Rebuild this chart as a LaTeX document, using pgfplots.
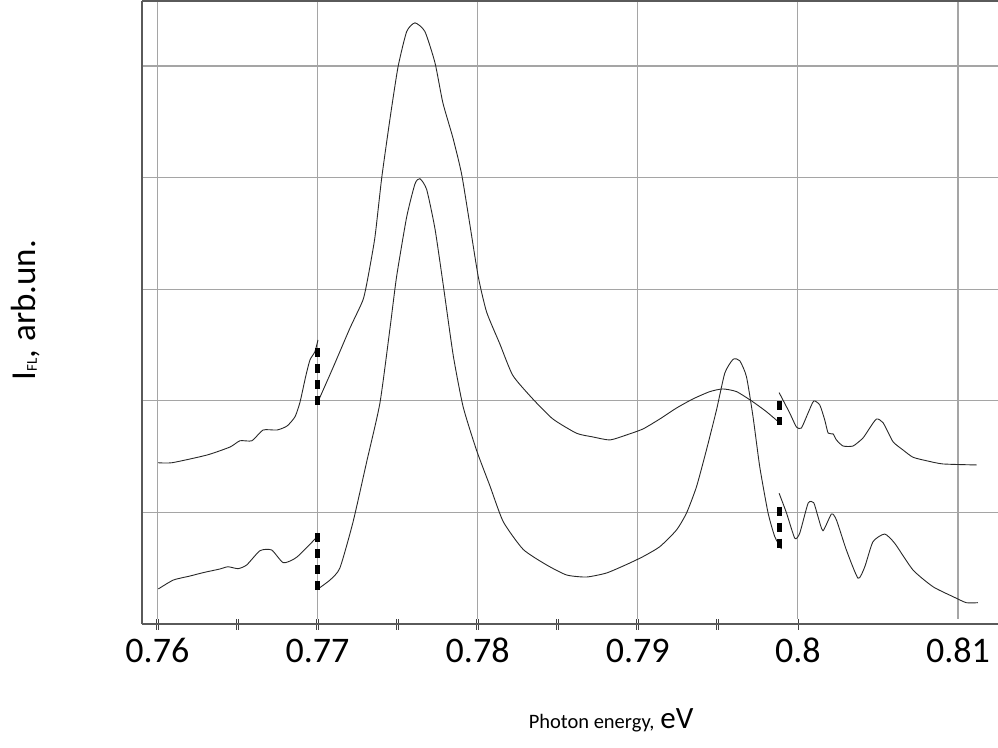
\documentclass[border=0pt]{standalone}
\usepackage{fontspec}
\setmainfont{Carlito}[Numbers=Lining]
\usepackage{pgfplots}
\pgfplotsset{compat=1.18}
\definecolor{gridgray}{RGB}{165,165,165}
\definecolor{framegray}{RGB}{90,90,90}
\definecolor{curve}{RGB}{40,40,40}
\begin{document}
\begin{tikzpicture}
\useasboundingbox (-142pt,-123pt) rectangle (856pt,624pt);
\begin{axis}[
    scale only axis,
    width=856pt, height=623pt,
    at={(0,0)}, anchor=south west,
    xmin=0.75904, xmax=0.8125,
    ymin=0, ymax=5.582,
    axis x line=box, axis y line=left,
    axis line style={-, framegray, line width=1.4pt},
    xtick={0.76,0.77,0.78,0.79,0.8,0.81},
    xticklabels={0.76,0.77,0.78,0.79,0.8,0.81},
    minor xtick={0.765,0.775,0.785,0.795,0.805},
    xtick pos=bottom,
    tick align=center,
    major tick length=11pt, minor tick length=11pt,
    xtick style={draw=black!75, line width=0.7pt, double=white, double distance=1.2pt},
    minor x tick style={draw=black!75, line width=0.7pt, double=white, double distance=1.2pt},
    ytick={1,2,3,4,5}, yticklabels={},
    ytick style={draw=none},
    xmajorgrids, ymajorgrids,
    major grid style={gridgray, line width=1.2pt},
    xticklabel style={font=\fontsize{36}{40}\selectfont, inner sep=0pt, anchor=base, yshift=-33pt},
    xlabel={{\fontsize{20.5}{24}\selectfont Photon energy,}\hspace{6pt}{\fontsize{31}{34}\selectfont eV}},
    xlabel style={at={(axis description cs:0.548,0)}, anchor=base, yshift=-104pt, inner sep=0pt},
    ylabel={I\raisebox{-1pt}{\fontsize{15}{15}\selectfont FL}, arb.un.},
    ylabel style={font=\fontsize{35}{38}\selectfont, at={(axis description cs:-0.1355,0.504)}, anchor=center},
]
% upper spectrum
\addplot[curve, line width=0.9pt, smooth, tension=0.35] coordinates {
(0.76004,1.445) (0.76092,1.445) (0.76310,1.514) (0.76454,1.586) (0.76516,1.642)
(0.76591,1.642) (0.76660,1.738) (0.76747,1.738) (0.76810,1.774) (0.76860,1.858)
(0.76891,1.989) (0.76926,2.216) (0.76953,2.366) (0.76984,2.440) (0.77003,2.545)
};
\addplot[curve, line width=0.9pt, smooth, tension=0.35] coordinates {
(0.77005,1.998) (0.77097,2.297) (0.77203,2.652) (0.77284,2.903) (0.77316,3.112)
(0.77359,3.468) (0.77401,3.996) (0.77453,4.529) (0.77503,4.991) (0.77557,5.308)
(0.77609,5.386) (0.77671,5.308) (0.77734,5.027) (0.77783,4.670) (0.77846,4.355)
(0.77900,4.032) (0.77952,3.575) (0.78004,3.112) (0.78056,2.796) (0.78139,2.509)
(0.78220,2.227) (0.78345,2.016) (0.78470,1.837) (0.78618,1.709) (0.78720,1.676)
(0.78826,1.649) (0.78930,1.694) (0.79032,1.747) (0.79138,1.837) (0.79242,1.935)
(0.79344,2.016) (0.79450,2.082) (0.79531,2.106) (0.79617,2.082) (0.79718,1.992)
(0.79804,1.902) (0.79887,1.801)
};
\addplot[curve, line width=0.9pt, smooth, tension=0.35] coordinates {
(0.79883,2.073) (0.79949,1.891) (0.79991,1.765) (0.80022,1.756) (0.80064,1.891)
(0.80099,1.998) (0.80137,1.962) (0.80168,1.828) (0.80189,1.711) (0.80220,1.703)
(0.80241,1.649) (0.80282,1.595) (0.80345,1.595) (0.80407,1.667) (0.80449,1.756)
(0.80491,1.837) (0.80532,1.804) (0.80594,1.634) (0.80657,1.559) (0.80719,1.494)
(0.80803,1.463) (0.80906,1.434) (0.81117,1.425)
};
% lower spectrum
\addplot[curve, line width=0.9pt, smooth, tension=0.35] coordinates {
(0.76006,0.314) (0.76100,0.394) (0.76204,0.430) (0.76285,0.460) (0.76391,0.493)
(0.76441,0.513) (0.76504,0.496) (0.76558,0.529) (0.76641,0.657) (0.76714,0.663)
(0.76787,0.549) (0.76870,0.598) (0.76995,0.777)
};
\addplot[curve, line width=0.9pt, smooth, tension=0.35] coordinates {
(0.77003,0.314) (0.77078,0.394) (0.77140,0.502) (0.77222,0.914) (0.77307,1.452)
(0.77390,1.980) (0.77453,2.652) (0.77494,3.112) (0.77557,3.647) (0.77609,3.944)
(0.77640,3.990) (0.77682,3.892) (0.77734,3.539) (0.77785,3.041) (0.77848,2.404)
(0.77910,1.944) (0.77994,1.554) (0.78077,1.237) (0.78160,0.917) (0.78285,0.668)
(0.78431,0.529) (0.78556,0.439) (0.78680,0.421) (0.78805,0.457) (0.78930,0.533)
(0.79032,0.603) (0.79138,0.693) (0.79242,0.842) (0.79305,0.995) (0.79367,1.230)
(0.79429,1.559) (0.79492,1.918) (0.79544,2.249) (0.79596,2.372) (0.79637,2.359)
(0.79679,2.216) (0.79720,1.858) (0.79762,1.409) (0.79814,0.995) (0.79856,0.782)
(0.79898,0.672)
};
\addplot[curve, line width=0.9pt, smooth, tension=0.35] coordinates {
(0.79883,1.171) (0.79929,0.995) (0.79981,0.768) (0.80012,0.815) (0.80064,1.082)
(0.80099,1.087) (0.80126,0.961) (0.80157,0.836) (0.80210,0.986) (0.80241,0.932)
(0.80303,0.663) (0.80376,0.410) (0.80418,0.513) (0.80469,0.737) (0.80542,0.806)
(0.80605,0.723) (0.80719,0.484) (0.80844,0.334) (0.80969,0.245) (0.81052,0.191)
(0.81125,0.191)
};
% joins between spectral pieces
\addplot[black, line width=5pt, dash pattern=on 9pt off 7pt] coordinates {(0.77000,2.473) (0.77000,1.962)};
\addplot[black, line width=5pt, dash pattern=on 9pt off 7pt] coordinates {(0.77000,0.815) (0.77000,0.298)};
\addplot[black, line width=5pt, dash pattern=on 9pt off 7pt] coordinates {(0.79884,1.998) (0.79884,1.783)};
\addplot[black, line width=5pt, dash pattern=on 9pt off 7pt] coordinates {(0.79884,1.051) (0.79884,0.678)};
\end{axis}
\end{tikzpicture}
\end{document}
